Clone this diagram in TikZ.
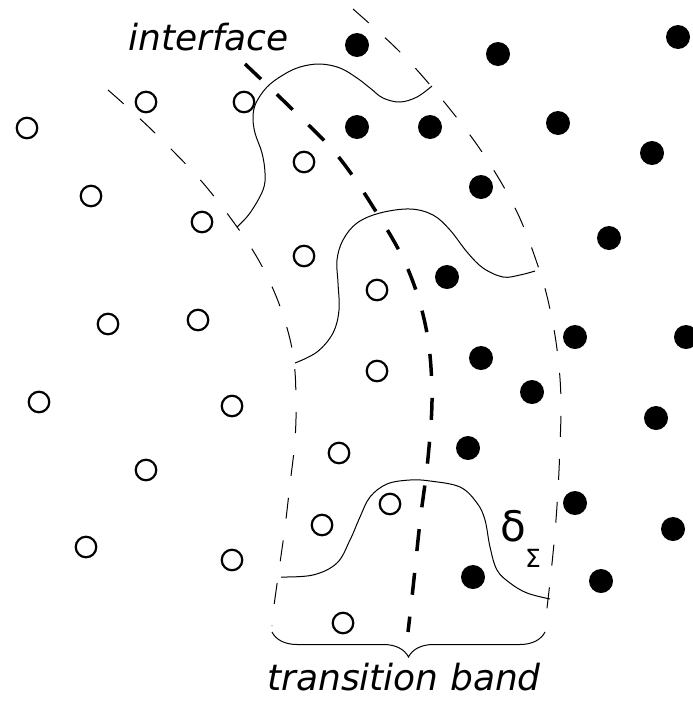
\documentclass[tikz,border=0pt]{standalone}
\usepackage{fontspec}
\setmainfont{DejaVu Sans}
\usetikzlibrary{decorations.pathreplacing}

\begin{document}
\begin{tikzpicture}[x=1pt,y=-1pt,
  opendot/.style={circle,draw,line width=2.2pt,minimum size=20.5pt,inner sep=0pt},
  filleddot/.style={circle,fill,minimum size=24pt,inner sep=0pt},
  bandedge/.style={line width=1pt,dash pattern=on 21pt off 22pt},
  iface/.style={line width=3.5pt,dash pattern=on 22pt off 22pt},
  profile/.style={line width=1pt},
  bigtext/.style={font=\fontsize{36}{40}\selectfont\itshape,inner sep=0pt}
]
\useasboundingbox (0,0) rectangle (693,702);

% phase A (open circles)
\foreach \x/\y [count=\i] in {27/128,146/102,244/102,91/196,202/222,304/162,
  304/256,377/290,108/324,198/320,377/371,39/402,232/406,339/453,146/470,
  322/525,390/504,86/547,232/560,343/623}
  \node[opendot] (o\i) at (\x,\y) {};

% phase B (filled circles)
\foreach \x/\y [count=\i] in {357/45,498/54,678/37,357/127,430/127,558/123,
  652/153,481/187,609/238,447/277,575/337,686/337,481/358,532/392,656/418,
  468/448,575/503,673/529,473/577,601/581}
  \node[filleddot] (f\i) at (\x,\y) {};

% edges of the transition band
\draw[bandedge] plot[smooth,tension=0.6] coordinates {(108,90) (126,106) (158,136)
  (203,183) (242,234) (265,272) (282,312) (293,354) (296,397) (295,440)
  (290,484) (285,527) (279,570) (273,613) (272,626)};
\draw[bandedge] plot[smooth,tension=0.6] coordinates {(353,9) (402,54) (445,103)
  (484,155) (517,212) (540,272) (551,314) (558,357) (561,400) (560,445)
  (558,490) (555,532) (551,573) (546,617) (545,630)};

% the sharp interface
\draw[iface] plot[smooth,tension=0.6] coordinates {(245,64) (293,110) (337,155)
  (375,210) (407,267) (426,328) (432,393) (428,458) (420,522) (413,588) (408,632)};

% smoothed delta profiles across the band
\draw[profile] plot[smooth,tension=0.6] coordinates {(237,227) (250,213) (263,190)
  (265,173) (262,153) (255,133) (253,117) (256,103) (267,87) (283,75) (300,67)
  (320,64) (340,68) (357,78) (370,88) (383,98) (400,102) (417,97) (432,86)};
\draw[profile] plot[smooth,tension=0.6] coordinates {(295,363) (317,352) (333,333)
  (339,310) (338,283) (337,260) (343,240) (357,223) (380,213) (410,209) (433,215)
  (450,230) (467,252) (483,268) (503,277) (520,275) (535,271)};
\draw[profile] plot[smooth,tension=0.6] coordinates {(281,577) (313,575) (337,563)
  (350,540) (360,517) (370,497) (387,484) (410,480) (430,481) (460,487) (477,503)
  (485,520) (490,547) (497,570) (510,583) (527,593) (550,599)};

% labels
\node[bigtext,anchor=base west] (iflabel) at (128,50) {interface};
\node[font=\fontsize{42}{46}\selectfont,inner sep=0pt] (dlt) at (513,526) {δ};
\node[font=\fontsize{25}{28}\selectfont,inner sep=0pt] (sgm) at (533,558) {Σ};

% width of the band
\coordinate (bl) at (272,632);
\coordinate (br) at (545,632);
\draw[line width=1pt,decorate,decoration={brace,mirror,amplitude=25pt}] (bl) -- (br);
\node[bigtext,anchor=base] (tblabel) at (404,690) {transition band};
\end{tikzpicture}
\end{document}
